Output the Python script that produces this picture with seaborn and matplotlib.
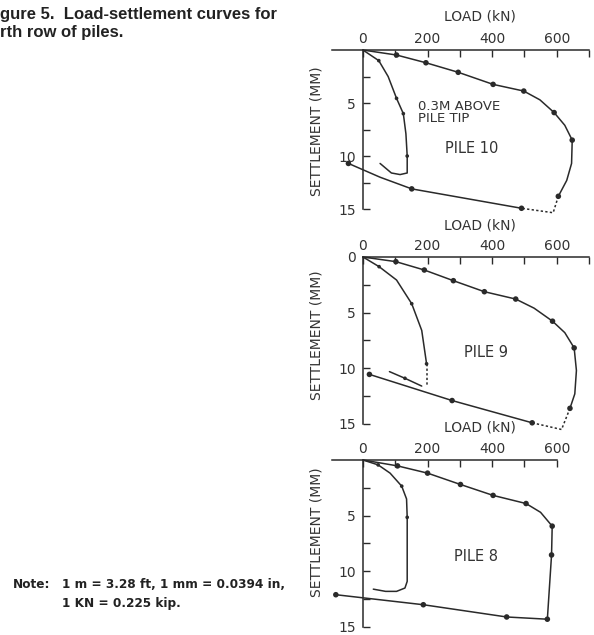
import matplotlib
matplotlib.use("Agg")
import matplotlib.pyplot as plt
import seaborn as sns
import pandas as pd

sns.set_theme(style="white")
plt.rcParams['font.family'] = ['DejaVu Sans']

# ---------------- data (load kN, settlement mm) ----------------
x_major = [0, 200, 400, 600]
x_labels = ["0", "200", "400", "600"]

# Pile 10
p10_up_load   = [0, 104, 195, 295, 403, 498, 548, 592, 625, 648, 646, 631, 605]
p10_up_settle = [0, 0.47, 1.2, 2.1, 3.24, 3.87, 4.7, 5.9, 7.1, 8.5, 10.7, 12.3, 13.8]
p10_up_mark   = [0, 1, 1, 1, 1, 1, 0, 1, 0, 1, 0, 0, 1]
p10_dot_load   = [605, 589, 491]
p10_dot_settle = [13.8, 15.35, 14.93]
p10_un_load   = [491, 151, 53, -45]
p10_un_settle = [14.93, 13.1, 12.0, 10.7]
p10_un_mark   = [1, 1, 0, 1]
p10_tip_load   = [0, 49, 78, 104, 125, 133, 137, 137, 115, 88, 53]
p10_tip_settle = [0, 1.0, 2.5, 4.56, 6.0, 7.9, 10.0, 11.6, 11.75, 11.6, 10.7]
p10_tip_mark   = [0, 1, 0, 1, 1, 0, 1, 0, 0, 0, 0]

# Pile 9
p9_up_load   = [0, 102, 190, 280, 376, 473, 530, 587, 625, 654, 661, 656, 641]
p9_up_settle = [0, 0.42, 1.17, 2.13, 3.12, 3.78, 4.6, 5.77, 6.8, 8.17, 10.2, 12.3, 13.6]
p9_up_mark   = [0, 1, 1, 1, 1, 1, 0, 1, 0, 1, 0, 0, 1]
p9_dot_load   = [641, 615, 524]
p9_dot_settle = [13.6, 15.5, 14.9]
p9_un_load   = [524, 276, 20]
p9_un_settle = [14.9, 12.9, 10.55]
p9_un_mark   = [1, 1, 1]
p9_tip_load   = [0, 50, 104, 151, 182, 197]
p9_tip_settle = [0, 0.87, 2.07, 4.2, 6.6, 9.6]
p9_tip_mark   = [0, 1, 0, 1, 0, 1]
p9_tipdot_load   = [197, 197]
p9_tipdot_settle = [9.6, 11.5]
p9_tipun_load   = [82, 130, 182]
p9_tipun_settle = [10.3, 10.9, 11.6]
p9_tipun_mark   = [0, 1, 0]

# Pile 8
p8_up_load   = [0, 107, 200, 302, 403, 505, 550, 586, 584, 571, 445, 187, -84]
p8_up_settle = [0, 0.53, 1.18, 2.2, 3.18, 3.91, 4.7, 5.94, 8.53, 14.3, 14.1, 13.0, 12.1]
p8_up_mark   = [0, 1, 1, 1, 1, 1, 0, 1, 1, 1, 1, 1, 1]
p8_tip_load   = [0, 47, 84, 120, 135, 137, 137, 130, 104, 70, 32]
p8_tip_settle = [0, 0.44, 1.18, 2.35, 3.5, 5.15, 10.9, 11.5, 11.8, 11.8, 11.6]
p8_tip_mark   = [0, 1, 0, 1, 0, 1, 0, 0, 0, 0, 0]

LINE = '#2a2a2a'
TXT = '#333333'

fig = plt.figure(figsize=(5.94, 6.35), dpi=100)

L, W = 0.5594, 0.4322
panels = [
    dict(rect=[L, 0.6625, W, 0.2587], ylim=(15.5, 0), yt=[5, 10, 15], xb=(-95, 700),
         xminor=[100, 300, 500, 700], xlab_y=1.1826, ylab_y=0.507),
    dict(rect=[L, 0.3219, W, 0.2734], ylim=(15.6, 0), yt=[0, 5, 10, 15], xb=(0, 700),
         xminor=[100, 300, 500, 700], xlab_y=1.1555, ylab_y=0.55),
    dict(rect=[L, 0.0126, W, 0.2630], ylim=(15, 0), yt=[5, 10, 15], xb=(-97, 600),
         xminor=[100, 300, 500], xlab_y=1.168, ylab_y=0.57),
]
axes = []
for p in panels:
    ax = fig.add_axes(p['rect'])
    ax.set_xlim(-95, 700)
    ax.set_ylim(*p['ylim'])
    ax.set_facecolor('none')
    for s in ['right', 'bottom']:
        ax.spines[s].set_visible(False)
    for s in ['top', 'left']:
        ax.spines[s].set_color(LINE)
        ax.spines[s].set_linewidth(1.1)
    ax.spines['left'].set_position(('data', 0))
    ax.spines['top'].set_bounds(*p['xb'])
    ax.spines['left'].set_bounds(0, 15)
    ax.xaxis.tick_top()
    ax.xaxis.set_label_position('top')
    ax.set_xticks(x_major)
    ax.set_xticklabels(x_labels)
    ax.set_xticks(p['xminor'], minor=True)
    ax.set_yticks(p['yt'])
    ax.set_yticklabels([str(v) for v in p['yt']])
    ax.set_yticks([2.5, 7.5, 12.5], minor=True)
    ax.tick_params(axis='x', which='both', direction='in', length=5, width=1,
                   top=True, bottom=False, pad=3, labelsize=10, colors=LINE, labelcolor=TXT)
    ax.tick_params(axis='y', which='both', direction='in', length=5, width=1,
                   left=True, right=False, pad=5, labelsize=10, colors=LINE, labelcolor=TXT)
    ax.set_xlabel('LOAD (kN)', fontsize=10, color=TXT)
    ax.xaxis.set_label_coords(0.575, p['xlab_y'])
    ax.set_ylabel('SETTLEMENT (MM)', fontsize=10, color=TXT)
    ax.yaxis.set_label_coords(-0.035, p['ylab_y'])
    ax.grid(False)
    axes.append(ax)


def curve(ax, xs, ys, marks=None, ls='-', ms=16):
    sns.lineplot(x=xs, y=ys, sort=False, estimator=None, ax=ax, color=LINE,
                 linewidth=1.1, linestyle=ls, clip_on=False)
    if marks is not None:
        mx = [a for a, m in zip(xs, marks) if m]
        my = [b for b, m in zip(ys, marks) if m]
        sns.scatterplot(x=mx, y=my, ax=ax, color=LINE, s=ms, edgecolor='none',
                        clip_on=False, zorder=3)


ax1, ax2, ax3 = axes
# Pile 10
curve(ax1, p10_up_load, p10_up_settle, p10_up_mark)
curve(ax1, p10_dot_load, p10_dot_settle, ls=(0, (1.5, 1.5)))
curve(ax1, p10_un_load, p10_un_settle, p10_un_mark)
curve(ax1, p10_tip_load, p10_tip_settle, p10_tip_mark, ms=7)
ax1.text(170, 5.9, '0.3M ABOVE\nPILE TIP', fontsize=9.5, color=TXT, ha='left',
         va='center', linespacing=0.9)
ax1.text(337, 9.25, 'PILE 10', fontsize=10.5, color=TXT, ha='center', va='center')

# Pile 9
curve(ax2, p9_up_load, p9_up_settle, p9_up_mark)
curve(ax2, p9_dot_load, p9_dot_settle, ls=(0, (1.5, 1.5)))
curve(ax2, p9_un_load, p9_un_settle, p9_un_mark)
curve(ax2, p9_tip_load, p9_tip_settle, p9_tip_mark, ms=7)
curve(ax2, p9_tipdot_load, p9_tipdot_settle, ls=(0, (1.5, 1.5)))
curve(ax2, p9_tipun_load, p9_tipun_settle, p9_tipun_mark, ms=7)
ax2.text(381, 8.6, 'PILE 9', fontsize=10.5, color=TXT, ha='center', va='center')

# Pile 8
curve(ax3, p8_up_load, p8_up_settle, p8_up_mark)
curve(ax3, p8_tip_load, p8_tip_settle, p8_tip_mark, ms=7)
ax3.text(350, 8.65, 'PILE 8', fontsize=10.5, color=TXT, ha='center', va='center')

# Caption and note
cap_font = ['Liberation Sans', 'DejaVu Sans']
fig.text(0.0, 1 - 15 / 635, 'gure 5.  Load-settlement curves for', family=cap_font,
         fontsize=12, fontweight='bold', color='#222222', ha='left', va='center')
fig.text(0.0, 1 - 33 / 635, 'rth row of piles.', family=cap_font,
         fontsize=12, fontweight='bold', color='#222222', ha='left', va='center')
note_font = ['DejaVu Sans']
fig.text(13 / 594, 1 - 585 / 635, 'Note:', family=note_font,
         fontsize=8.7, fontweight='bold', color='#222222', ha='left', va='center')
fig.text(62 / 594, 1 - 585 / 635, '1 m = 3.28 ft, 1 mm = 0.0394 in,',
         family=note_font, fontsize=8.7, fontweight='bold',
         color='#222222', ha='left', va='center')
fig.text(62 / 594, 1 - 603 / 635, '1 KN = 0.225 kip.',
         family=note_font, fontsize=8.7, fontweight='bold',
         color='#222222', ha='left', va='center')

fig.savefig('out.png', dpi=100)
